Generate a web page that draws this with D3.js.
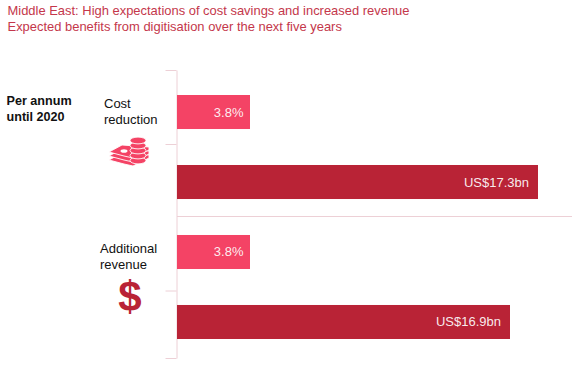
<!DOCTYPE html>
<html>
<head>
<meta charset="utf-8">
<script src="https://cdn.jsdelivr.net/npm/d3@7"></script>
<style>
    html, body { margin: 0; padding: 0; background: #fff; }
    svg { display: block; }
    text { font-family: "Liberation Sans", Arial, sans-serif; }
</style>
</head>
<body>
<div id="chart"></div>
<script>
// values
const titleLines = ["Middle East: High expectations of cost savings and increased revenue",
    "Expected benefits from digitisation over the next five years"];
const rows = ["cost_pct", "cost_usd", "revenue_pct", "revenue_usd"];
const rowUnits = ["pct", "usd", "pct", "usd"];
const rowValues = [3.8, 17.3, 3.8, 16.9];
const rowLabels = ["3.8%", "US$17.3bn", "3.8%", "US$16.9bn"];
const bracketTicks = [0, 1, 3, 4];
const sideLabel = ["Per annum", "until 2020"];
const costLabel = ["Cost", "reduction"];
const revenueLabel = ["Additional", "revenue"];

const width = 578, height = 365;
const pctColor = "#f44365", usdColor = "#b92336", lineColor = "#edd0d6";

let svg = d3.select("#chart").append("svg")
    .attr("width", width)
    .attr("height", height);

// the bars in the source are not on one common scale, so each unit gets its own
let left = 177;
let pctScale = d3.scaleLinear().domain([0, 3.8]).range([0, 73]);
let usdScale = d3.scaleLinear().domain([0, 16.9, 17.3]).range([0, 333, 361]);
let rowScale = d3.scaleBand().domain(rows).range([95, 339]).paddingInner(0.514).paddingOuter(0);
let bracketScale = d3.scaleLinear().domain([0, 1, 2, 3, 4]).range([70, 144, 216, 290.5, 358]);

function barWidth(i) {
    return rowUnits[i] == "pct" ? pctScale(rowValues[i]) : usdScale(rowValues[i]);
}

// Title
svg.append("g").selectAll("text")
    .data(titleLines)
    .join("text")
    .attr("x", 7.5)
    .attr("y", (d, i) => 14.5 + i * 16)
    .attr("font-size", 12.95)
    .attr("fill", "#c4374b")
    .text(d => d);

// Bracket on the left of the bars
let bracketAxis = d3.axisLeft(bracketScale)
    .tickValues(bracketTicks)
    .tickSize(11)
    .tickSizeOuter(0)
    .tickFormat("");
let bracket = svg.append("g")
    .attr("transform", "translate(" + (left - 0.5) + ",0)")
    .call(bracketAxis);
bracket.selectAll("path, line").attr("stroke", lineColor);

// Separator between the two groups
svg.append("line")
    .attr("x1", left)
    .attr("x2", 572)
    .attr("y1", Math.round(bracketScale(2)) + 0.5)
    .attr("y2", Math.round(bracketScale(2)) + 0.5)
    .attr("stroke", lineColor);

// Bars
svg.append("g").selectAll("rect")
    .data(rows)
    .join("rect")
    .attr("x", left)
    .attr("y", d => rowScale(d))
    .attr("width", (d, i) => barWidth(i))
    .attr("height", rowScale.bandwidth())
    .attr("fill", (d, i) => rowUnits[i] == "pct" ? pctColor : usdColor);

svg.append("g").selectAll("text")
    .data(rows)
    .join("text")
    .attr("x", (d, i) => left + barWidth(i) - (rowUnits[i] == "pct" ? 6.5 : 9))
    .attr("y", d => rowScale(d) + rowScale.bandwidth() / 2 + 4.5)
    .attr("text-anchor", "end")
    .attr("font-size", 13)
    .attr("fill", "#fff")
    .attr("fill-opacity", 0.92)
    .text((d, i) => rowLabels[i]);

// Side labels
function addLines(lines, x, y, weight, size) {
    svg.append("g").selectAll("text")
        .data(lines)
        .join("text")
        .attr("x", x)
        .attr("y", (d, i) => y + i * 15.5)
        .attr("font-size", size)
        .attr("font-weight", weight)
        .attr("fill", "#111")
        .text(d => d);
}
addLines(sideLabel, 6.5, 105, "bold", 12.6);
addLines(costLabel, 104, 108, "normal", 13);
addLines(revenueLabel, 100, 253, "normal", 13);

// Coin icon, drawn bottom layer first
let coins = svg.append("g").attr("fill", pctColor);
[8, 4, 0].forEach(function (dy) {
    coins.append("path")
        .attr("d", "M109," + (152 + dy) + "L122," + (145 + dy) + "L149," + (147 + dy) + "L149," + (150 + dy)
            + "L133," + (158 + dy) + "L124," + (156 + dy) + "Z")
        .attr("stroke", "#fff")
        .attr("stroke-width", 0.9);
});
coins.append("ellipse")
    .attr("cx", 124)
    .attr("cy", 151)
    .attr("rx", 3.5)
    .attr("ry", 1.8)
    .attr("fill", "#fff");
[20, 15, 10, 5, 0].forEach(function (dy) {
    coins.append("ellipse")
        .attr("cx", 138)
        .attr("cy", 140.5 + dy)
        .attr("rx", 8)
        .attr("ry", 3.4)
        .attr("stroke", "#fff")
        .attr("stroke-width", 0.9);
});

// Dollar icon
svg.append("text")
    .attr("x", 130)
    .attr("y", 311)
    .attr("text-anchor", "middle")
    .attr("font-size", 42)
    .attr("font-weight", "bold")
    .attr("fill", usdColor)
    .text("$");
</script>
</body>
</html>
